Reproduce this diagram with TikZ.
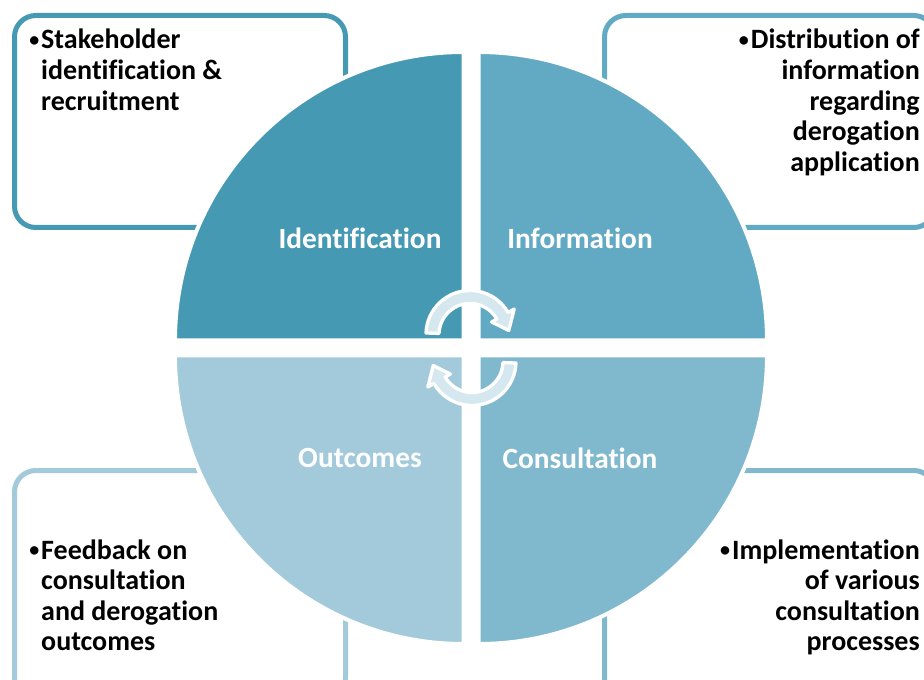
\documentclass[tikz,border=0pt]{standalone}
\usepackage{fontspec}
\setmainfont[Ligatures = CommonOff]{Carlito}
\usetikzlibrary{positioning}

\definecolor{identcol}{RGB}{70,153,179}
\definecolor{infocol}{RGB}{98,170,196}
\definecolor{conscol}{RGB}{128,185,206}
\definecolor{outcol}{RGB}{162,202,219}
\definecolor{turncol}{RGB}{213,231,239}

\newcommand{\dotmark}{\raisebox{1.6pt}{\fontsize{15}{15}\selectfont\textbullet}}

\begin{document}
\begin{tikzpicture}[
    x = 0.75pt, y = 0.75pt,
    notebox/.style = {line width = 3.75pt, rounded corners = 16pt},
    slice/.style = {draw = white, line width = 3pt},
    quadtext/.style = {text = white, font = \fontsize{22}{24}\selectfont\bfseries},
    notetext/.style = {inner sep = 0pt, font = \fontsize{21}{22.9}\selectfont\bfseries},
    turn/.style = {fill = turncol, draw = white, line width = 2.5pt, line join = round},
  ]
        \useasboundingbox (0,0) rectangle (924,679);
        \clip (0,0) rectangle (924,679);

        % boxes behind the circle
        \draw [notebox, draw = identcol] (14.5,663.5) rectangle (345.5,451.5);
        \draw [notebox, draw = infocol]  (604.5,663.5) rectangle (935,451.5);
        \draw [notebox, draw = outcol]   (14.5,208.5) rectangle (345.5,-20);
        \draw [notebox, draw = conscol]  (604.5,208.5) rectangle (935,-20);

        % the four quarters
        \filldraw [slice, fill = identcol] (463.5,338.5) -- ++(180:288.5)
          arc [start angle = 180, end angle = 90, radius = 288.5] -- cycle;
        \filldraw [slice, fill = infocol] (478.5,338.5) -- ++(90:288.5)
          arc [start angle = 90, end angle = 0, radius = 288.5] -- cycle;
        \filldraw [slice, fill = conscol] (478.5,323.5) -- ++(0:288.5)
          arc [start angle = 0, end angle = -90, radius = 288.5] -- cycle;
        \filldraw [slice, fill = outcol] (463.5,323.5) -- ++(270:288.5)
          arc [start angle = 270, end angle = 180, radius = 288.5] -- cycle;

        \node [quadtext] (ident) at (360,441) {Identification};
        \node [quadtext] (info)  at (580,441) {Information};
        \node [quadtext] (outc)  at (360,221) {Outcomes};
        \node [quadtext] (cons)  at (580,221) {Consultation};

        % turning arrows in the middle
        \begin{scope}[shift = {(470,344.5)}]
          \filldraw [turn] (178:44) arc [start angle = 178, end angle = 30, radius = 44]
            -- (30:51) -- (6:39) -- (30:25) -- (30:31)
            arc [start angle = 30, end angle = 178, radius = 31] -- cycle;
        \end{scope}
        \begin{scope}[shift = {(472,317.5)}]
          \filldraw [turn] (-2:44) arc [start angle = -2, end angle = -150, radius = 44]
            -- (210:51) -- (186:39) -- (210:25) -- (210:31)
            arc [start angle = -150, end angle = -2, radius = 31] -- cycle;
        \end{scope}

        % notes
        \node [notetext, anchor = base west] (stake) at (29,630) {%
          \begin{tabular}[t]{@{}l@{\hspace{1.5pt}}l@{}}
            \dotmark & Stakeholder\\
                     & identification \&\\
                     & recruitment
          \end{tabular}};
        \node [notetext, anchor = base east] (distrib) at (920,630) {%
          \begin{tabular}[t]{@{}r@{}}
            \dotmark\hspace{1.5pt}Distribution of\\
            information\\
            regarding\\
            derogation\\
            application
          \end{tabular}};
        \node [notetext, anchor = base west] (feedback) at (29,120) {%
          \begin{tabular}[t]{@{}l@{\hspace{1.5pt}}l@{}}
            \dotmark & Feedback on\\
                     & consultation\\
                     & and derogation\\
                     & outcomes
          \end{tabular}};
        \node [notetext, anchor = base east] (implem) at (920,120) {%
          \begin{tabular}[t]{@{}r@{}}
            \dotmark\hspace{1.5pt}Implementation\\
            of various\\
            consultation\\
            processes
          \end{tabular}};
\end{tikzpicture}
\end{document}
